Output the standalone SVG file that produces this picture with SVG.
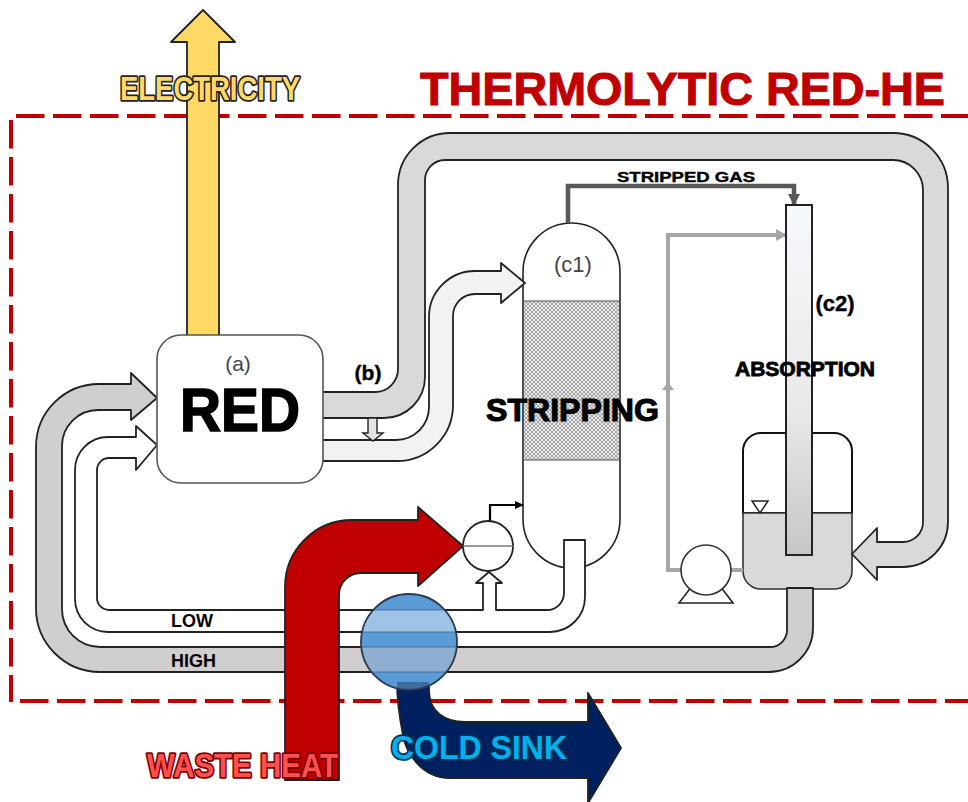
<svg xmlns="http://www.w3.org/2000/svg" width="968" height="802" viewBox="0 0 968 802">
<style>
text{font-family:"Liberation Sans",Arial,sans-serif;font-weight:bold;fill:#000}
.pipe{stroke:#222;stroke-width:1.8;stroke-linejoin:round}
.dash{stroke:#c00000;stroke-width:4;fill:none;stroke-dasharray:28.5 8.5}
.vessel{stroke:#111;stroke-width:2}
.reg{font-weight:normal;fill:#444}
.heavy{stroke:#000;stroke-width:.8}
.fancy{stroke-width:3.6;paint-order:stroke;stroke-linejoin:round}
.band{stroke:#3f5f85;stroke-width:1;stroke-opacity:.75}
</style>
<defs>
<pattern id="hatch" width="4" height="4" patternUnits="userSpaceOnUse">
<rect width="4" height="4" fill="#e6e6e6"/>
<path d="M0,0L4,4M4,0L0,4" stroke="#8c8c8c" stroke-width=".7"/>
</pattern>
<linearGradient id="abs" x1="0" y1="0" x2="0" y2="1">
<stop offset="0" stop-color="#f6f9fd"/><stop offset=".6" stop-color="#e8e8e8"/><stop offset="1" stop-color="#c6c6c6"/>
</linearGradient>
<clipPath id="hx"><circle cx="409" cy="642" r="48"/></clipPath>
<marker id="gh" markerUnits="userSpaceOnUse" markerWidth="11" markerHeight="12" refX="10" refY="6" orient="auto"><path d="M0,0L11,6L0,12Z" fill="#a6a6a6"/></marker>
<marker id="dh" markerUnits="userSpaceOnUse" markerWidth="12" markerHeight="13" refX="11" refY="6" orient="auto"><path d="M0,0L12,6L0,12Z" fill="#595959"/></marker>
<marker id="kh" markerUnits="userSpaceOnUse" markerWidth="9" markerHeight="10" refX="8" refY="5" orient="auto"><path d="M0,1L9,5L0,9Z" fill="#000"/></marker>
</defs>

<g id="boundary">
<line class="dash" x1="16" y1="116" x2="968" y2="116"/>
<line class="dash" x1="11" y1="120" x2="11" y2="702"/>
<line class="dash" x1="20" y1="701" x2="968" y2="701"/>
</g>

<g id="absorption-tank">
<path d="M743,513V451A18,18 0 0 1 761,433H834A18,18 0 0 1 852,451V513Z" fill="#fff" class="vessel"/>
<path d="M743,513H852V571A18,18 0 0 1 834,589H761A18,18 0 0 1 743,571Z" fill="#d9d9d9" stroke="#333" stroke-width="1.6"/>
<path d="M752,501H768L760,513Z" fill="#fff" stroke="#222" stroke-width="1.5"/>
</g>

<g id="stripping-column">
<path d="M523,272A48.500,49 0 0 1 620,272V519A48.500,49 0 0 1 523,519Z" fill="#fff" stroke="#222" stroke-width="1.6"/>
<rect x="523.500" y="301" width="96" height="159" fill="url(#hatch)" stroke="#555" stroke-width="1"/>
<text class="reg" x="573" y="272" font-size="22" text-anchor="middle">(c1)</text>
</g>

<g id="connectors">
<path d="M187,336V42H171L203,10L235,42H219V336Z" fill="#ffd966" class="pipe"/>
<path d="M322,392H375A23,23 0 0 0 398,369V185A52,52 0 0 1 450,133H893A55,55 0 0 1 948,188V522A45,45 0 0 1 903,567H877V580L852,554L877,528V542H903A20,20 0 0 0 923,522V190A30,30 0 0 0 893,160H445A20,20 0 0 0 425,180V377A41,41 0 0 1 384,418H322Z" fill="#d9d9d9" class="pipe"/>
<path d="M322,440H396A33,33 0 0 0 429,407V317A46,46 0 0 1 475,271H501V263L525,283L501,303V294H475A22,22 0 0 0 453,316V405A56,56 0 0 1 397,461H322Z" fill="#f2f2f2" class="pipe"/>
<path d="M368,418V433H363L373,441L383,433H377V418Z" fill="#e4e4e4" stroke="#222" stroke-width="1.4"/>
<path d="M157,398L131,420V410H98A36,36 0 0 0 62,446V609A38,38 0 0 0 100,647H770A17,17 0 0 0 787,630V588H813V628A44,44 0 0 1 769,672H100A64,64 0 0 1 36,608V447A63,63 0 0 1 99,384H131V373Z" fill="#d0cece" class="pipe"/>
<path d="M157,445L136,470V458H109A12,12 0 0 0 97,470V598A12,12 0 0 0 109,610H483V583H476L489,572L502,583H496V610H547A17,17 0 0 0 564,593V540H585V597A35,35 0 0 1 550,632H108A33,33 0 0 1 75,599V470A33,33 0 0 1 108,437H136V426Z" fill="#fff" class="pipe"/>
<path d="M568,223V186H794V205" fill="none" stroke="#595959" stroke-width="4.500" marker-end="url(#dh)"/>
<path d="M743,570H668V235H786" fill="none" stroke="#a6a6a6" stroke-width="4" marker-end="url(#gh)"/>
<path d="M662,390L668,382L674,390Z" fill="#a6a6a6"/>
<path d="M490,521V505H523" fill="none" stroke="#000" stroke-width="2.2" marker-end="url(#kh)"/>
<path d="M285,780V587A67,67 0 0 1 352,520H418V507L463,546L418,586V573H361A22,22 0 0 0 339,595V780Z" fill="#c00000" class="pipe"/>
<path d="M397,682H429V690C429,712 445,722 465,722H588V693L621,748L588,803V778H450C420,778 405,750 403,735C400,720 397,700 397,682Z" fill="#002060" class="pipe"/>
</g>

<g id="red-stack">
<rect x="157" y="335" width="166" height="148" rx="24" fill="#fff" stroke="#555" stroke-width="1.6"/>
<text class="reg" x="238" y="371" font-size="21" text-anchor="middle">(a)</text>
<text x="180" y="431" font-size="62" textLength="120" lengthAdjust="spacingAndGlyphs" style="stroke:#000;stroke-width:1.6">RED</text>
</g>

<g id="reboiler">
<circle cx="488" cy="546" r="25" fill="#fff" stroke="#222" stroke-width="1.8"/>
<line x1="463" y1="546" x2="513" y2="546" stroke="#777" stroke-width="1.400"/>
</g>

<g id="absorption-column">
<rect x="786" y="205" width="26" height="350" fill="url(#abs)" stroke="#222" stroke-width="2"/>
</g>

<g id="pump">
<path d="M679,603L692,586H720L733,603Z" fill="#fff" stroke="#222" stroke-width="1.6"/>
<circle cx="706" cy="570" r="25" fill="#fff" stroke="#333" stroke-width="1.6"/>
</g>

<g id="heat-exchanger">
<circle cx="409" cy="642" r="48" fill="#5b9bd5"/>
<g clip-path="url(#hx)">
<rect x="360" y="610" width="98" height="22" fill="#9dc3e6"/>
<rect x="360" y="647" width="98" height="25" fill="#8faed0"/>
<rect x="397" y="682" width="32" height="9" fill="#3d6b9e"/>
<path class="band" d="M360,610H458M360,632H458M360,647H458M360,672H458"/>
</g>
<circle cx="409" cy="642" r="48" fill="none" stroke="#2b3a4e" stroke-width="1.800"/>
</g>

<g id="labels">
<text x="420" y="105" font-size="46" textLength="525" lengthAdjust="spacingAndGlyphs" style="fill:#c00000;stroke:#c00000;stroke-width:1">THERMOLYTIC RED-HE</text>
<text class="fancy" x="120" y="100" font-size="33" textLength="180" lengthAdjust="spacingAndGlyphs" style="fill:#ffd966;stroke:#222">ELECTRICITY</text>
<text class="heavy" x="368" y="380" font-size="21" text-anchor="middle" style="stroke-width:.4">(b)</text>
<text class="heavy" x="835" y="311" font-size="22" text-anchor="middle" style="stroke-width:.4">(c2)</text>
<text class="heavy" x="617" y="182" font-size="14.500" textLength="138" lengthAdjust="spacingAndGlyphs" style="stroke-width:.4">STRIPPED GAS</text>
<text class="heavy" x="486" y="421" font-size="32" textLength="173" lengthAdjust="spacingAndGlyphs" style="stroke-width:1.1">STRIPPING</text>
<text class="heavy" x="735" y="376" font-size="20" textLength="140" lengthAdjust="spacingAndGlyphs">ABSORPTION</text>
<text x="171" y="627" font-size="18" textLength="42" lengthAdjust="spacingAndGlyphs">LOW</text>
<text x="171" y="667" font-size="18" textLength="45" lengthAdjust="spacingAndGlyphs">HIGH</text>
<text class="fancy" x="147" y="777" font-size="34" textLength="191" lengthAdjust="spacingAndGlyphs" style="fill:#ff5050;stroke:#7a0000">WASTE HEAT</text>
<text class="fancy" x="391" y="759" font-size="33" textLength="176" lengthAdjust="spacingAndGlyphs" style="fill:#00b0f0;stroke:#00304f">COLD SINK</text>
</g>
</svg>
